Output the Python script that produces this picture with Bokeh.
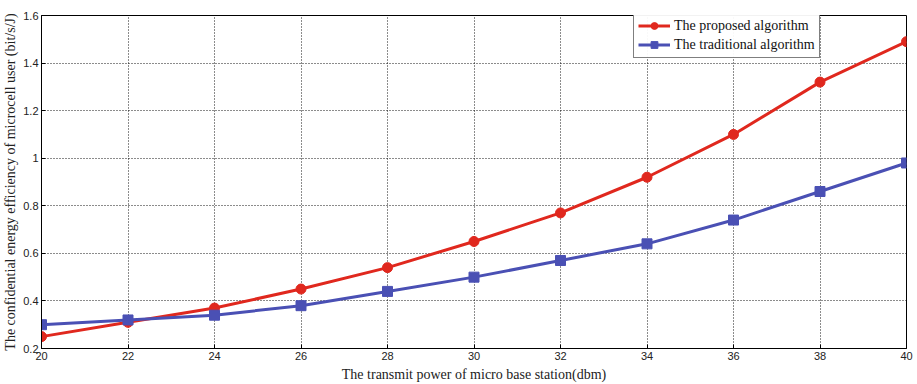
from bokeh.plotting import figure
from bokeh.models import (Range1d, FixedTicker, CustomJSTickFormatter,
                          Legend, LegendItem)
from bokeh.embed import file_html
from bokeh.resources import INLINE

# Transmit power of the micro base station (dBm)
power_dbm = [20, 22, 24, 26, 28, 30, 32, 34, 36, 38, 40]
# Confidential energy efficiency of the microcell user (bit/s/J)
proposed = [0.25, 0.31, 0.37, 0.45, 0.54, 0.65, 0.77, 0.92, 1.10, 1.32, 1.49]
traditional = [0.30, 0.32, 0.34, 0.38, 0.44, 0.50, 0.57, 0.64, 0.74, 0.86, 0.98]

x_ticks = [20, 22, 24, 26, 28, 30, 32, 34, 36, 38, 40]
y_ticks = [0.2, 0.4, 0.6, 0.8, 1.0, 1.2, 1.4, 1.6]

RED = "#e0281e"
BLUE = "#4a50b4"
SERIF = "Liberation Serif"
SANS = "Liberation Sans"

p = figure(width=917, height=384, output_backend="svg", toolbar_location=None,
           x_range=Range1d(20, 40), y_range=Range1d(0.2, 1.6),
           min_border_left=40, min_border_right=11, min_border_top=15,
           min_border_bottom=34)
p.background_fill_color = "white"
p.border_fill_color = "white"
p.outline_line_color = "black"
p.outline_line_width = 1

fmt = CustomJSTickFormatter(code="return String(Math.round(tick * 10) / 10);")

for ax in (p.xaxis[0], p.yaxis[0]):
    ax.major_tick_in = 4
    ax.major_tick_out = 0
    ax.minor_tick_in = 0
    ax.minor_tick_out = 0
    ax.axis_line_color = "black"
    ax.major_label_text_font = SANS
    ax.major_label_text_font_size = "11px"
    ax.major_label_text_color = "#222222"
    ax.axis_label_text_font = SERIF
    ax.axis_label_text_font_size = "14px"
    ax.axis_label_text_font_style = "normal"
    ax.axis_label_text_color = "#222222"
    ax.formatter = fmt

p.xaxis[0].ticker = FixedTicker(ticks=x_ticks)
p.yaxis[0].ticker = FixedTicker(ticks=y_ticks)
p.xaxis[0].axis_label = "The transmit power of micro base station(dbm)"
p.yaxis[0].axis_label = "The confidential energy efficiency of microcell user (bit/s/J)"
p.xaxis[0].major_label_standoff = 3
p.yaxis[0].major_label_standoff = 3
p.xaxis[0].axis_label_standoff = 4
p.yaxis[0].axis_label_standoff = 2

p.xgrid.ticker = FixedTicker(ticks=x_ticks)
p.ygrid.ticker = FixedTicker(ticks=y_ticks)
for g in (p.xgrid, p.ygrid):
    g.grid_line_color = "black"
    g.grid_line_dash = "1 2"
    g.grid_line_width = 1
    g.grid_line_alpha = 0.9

r1 = p.line(power_dbm, proposed, line_color=RED, line_width=3)
s1 = p.scatter(power_dbm, proposed, marker="circle", size=10,
               fill_color=RED, line_color=RED)
r2 = p.line(power_dbm, traditional, line_color=BLUE, line_width=3)
s2 = p.scatter(power_dbm, traditional, marker="square", size=10,
               fill_color=BLUE, line_color=BLUE)

legend = Legend(items=[LegendItem(label="The proposed algorithm", renderers=[r1, s1]),
                       LegendItem(label="The traditional algorithm", renderers=[r2, s2])],
                location=(592, 290))
legend.border_line_color = "black"
legend.border_line_width = 1
legend.label_text_font = SERIF
legend.label_text_font_size = "14px"
legend.label_text_color = "#111111"
legend.glyph_width = 32
legend.glyph_height = 17
legend.label_standoff = 4
legend.padding = 4
legend.spacing = 2
legend.margin = 0
legend.label_height = 17
p.add_layout(legend, "center")

open("out.html", "w").write(file_html(p, INLINE))
